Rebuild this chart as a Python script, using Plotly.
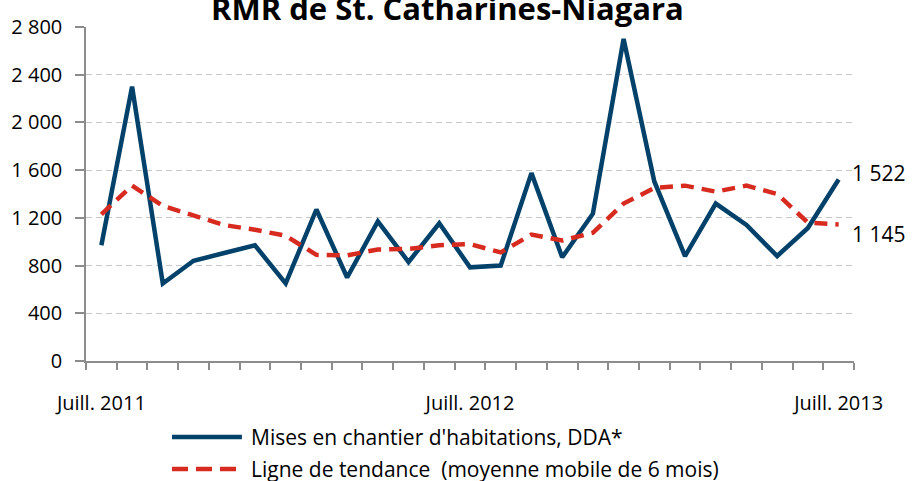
import plotly.graph_objects as go

months = ["Juill. 2011", "Août 2011", "Sept. 2011", "Oct. 2011", "Nov. 2011", "Déc. 2011",
          "Janv. 2012", "Févr. 2012", "Mars 2012", "Avr. 2012", "Mai 2012", "Juin 2012",
          "Juill. 2012", "Août 2012", "Sept. 2012", "Oct. 2012", "Nov. 2012", "Déc. 2012",
          "Janv. 2013", "Févr. 2013", "Mars 2013", "Avr. 2013", "Mai 2013", "Juin 2013",
          "Juill. 2013"]
starts = [970, 2300, 650, 840, 905, 970, 650, 1270, 700, 1170, 830, 1155,
          785, 800, 1575, 870, 1235, 2700, 1505, 880, 1320, 1140, 880, 1115, 1522]
trend = [1230, 1470, 1300, 1220, 1140, 1100, 1050, 890, 885, 935, 940, 970,
         980, 910, 1060, 1010, 1075, 1320, 1450, 1470, 1420, 1470, 1400, 1160, 1145]
series_names = ["Mises en chantier d'habitations, DDA*",
                "Ligne de tendance  (moyenne mobile de 6 mois)"]
tick_labels = ["Juill. 2011", "Juill. 2012", "Juill. 2013"]
y_ticks = [0, 400, 800, 1200, 1600, 2000, 2400, 2800]

FONT = "Open Sans"
BLUE = "#01416A"
RED = "#D72B20"
x_idx = list(range(len(months)))
tick_pos = [months.index(t) for t in tick_labels]

fig = go.Figure()
fig.add_trace(go.Scatter(
    x=x_idx, y=starts, mode="lines", name=series_names[0],
    line=dict(color=BLUE, width=4.5),
    text=months, hovertemplate="%{text}: %{y}<extra></extra>"))
fig.add_trace(go.Scatter(
    x=x_idx, y=trend, mode="lines", name=series_names[1],
    line=dict(color=RED, width=4.5, dash="13px,8px"),
    text=months, hovertemplate="%{text}: %{y}<extra></extra>"))

# end-of-series value labels
fig.add_annotation(x=x_idx[-1], y=starts[-1], text="1 522", showarrow=False,
                   xanchor="left", yanchor="middle", xshift=11, yshift=6,
                   font=dict(family=FONT, size=21, color="#000"))
fig.add_annotation(x=x_idx[-1], y=trend[-1], text="1 145", showarrow=False,
                   xanchor="left", yanchor="middle", xshift=11, yshift=-10,
                   font=dict(family=FONT, size=21, color="#000"))
# title
fig.add_annotation(xref="paper", yref="paper", x=0.471, y=1, xanchor="center",
                   yanchor="bottom", yshift=-4, showarrow=False,
                   text="<b>RMR de St. Catharines-Niagara</b>",
                   font=dict(family=FONT, size=31, color="#000"))

# legend (drawn below the plot area)
legend_rows = [(-0.2275, BLUE, "solid"), (-0.3234, RED, "16px,8px")]
for name, (ly, col, dash) in zip(series_names, legend_rows):
    fig.add_shape(type="line", xref="paper", yref="paper", x0=0.112, x1=0.203,
                  y0=ly, y1=ly, line=dict(color=col, width=4.5, dash=dash))
    fig.add_annotation(xref="paper", yref="paper", x=0.2125, y=ly, text=name,
                       showarrow=False, xanchor="left", yanchor="middle",
                       font=dict(family=FONT, size=21, color="#000"))

fig.update_layout(
    width=915, height=481,
    margin=dict(l=86, r=61, t=27, b=120),
    paper_bgcolor="white", plot_bgcolor="white",
    separators=", ",
    font=dict(family=FONT, size=18, color="#000"),
    showlegend=False,
    xaxis=dict(range=[-0.5, len(months) - 0.5], tickmode="array", tickvals=tick_pos,
               ticktext=tick_labels, ticks="", showgrid=False, zeroline=False,
               automargin=False, ticklabelstandoff=23, tickangle=0,
               showline=True, linecolor="#8c8c8c", linewidth=1.5,
               tickfont=dict(family=FONT, size=20, color="#000"),
               minor=dict(tickmode="linear", tick0=-0.5, dtick=1, ticks="outside",
                          ticklen=7, tickcolor="#8c8c8c", tickwidth=1.5, showgrid=False)),
    yaxis=dict(range=[0, 2800], tickmode="array", tickvals=y_ticks, tickformat=",d",
               ticks="outside", ticklen=9, tickcolor="#8c8c8c", tickwidth=1.5,
               automargin=False, ticklabelstandoff=9,
               showline=True, linecolor="#8c8c8c", linewidth=1.5, zeroline=False,
               showgrid=True, gridcolor="#c8c8c8", gridwidth=1.3, griddash="6px,4px",
               tickfont=dict(family=FONT, size=20, color="#000")),
)

fig.write_html("out.html", config={"displayModeBar": False},
               post_script="document.body.style.margin='0';")
